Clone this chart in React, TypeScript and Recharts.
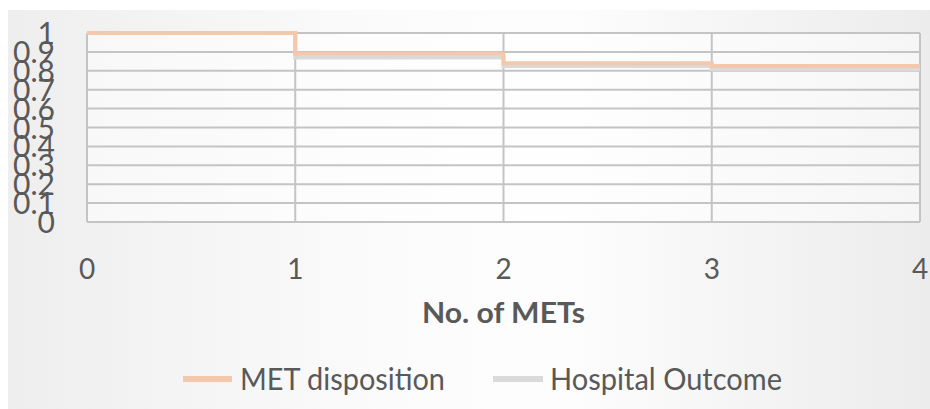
import React from "react";
import { LineChart, Line, XAxis, YAxis, CartesianGrid, Legend } from "recharts";

// number of METs and the proportion at each step
const metCounts = [0, 1, 2, 3, 4];
const metDisposition = [1, 0.89, 0.84, 0.825, 0.825];
const hospitalOutcome = [1, 0.87, 0.825, 0.81, 0.81];
const yTicks = [0, 0.1, 0.2, 0.3, 0.4, 0.5, 0.6, 0.7, 0.8, 0.9, 1];
const xTicks = [0, 1, 2, 3, 4];

const data = metCounts.map((n, i) => ({
  n,
  met: metDisposition[i],
  hosp: hospitalOutcome[i],
}));

const TEXT = "#595959";
const FONT = "Lato, 'Open Sans', sans-serif";
const ORANGE = "#f4c8aa";
const GREY = "#dadada";

const YTick = (props: any) => {
  const { y, payload } = props;
  return (
    <text x={55} y={y + 11} textAnchor="end" fill={TEXT} fontSize={30} fontFamily={FONT}>
      {String(Math.round(payload.value * 10) / 10)}
    </text>
  );
};

const XTick = (props: any) => {
  const { x, payload } = props;
  return (
    <text x={x} y={279} textAnchor="middle" fill={TEXT} fontSize={28} fontFamily={FONT}>
      {payload.value}
    </text>
  );
};

const AxisTitle = () => (
  <text
    x={422}
    y={323}
    fill={TEXT}
    fontSize={29}
    fontWeight={700}
    fontFamily={FONT}
    textLength={163}
    lengthAdjust="spacingAndGlyphs"
  >
    No. of METs
  </text>
);

const LegendContent = () => (
  <svg width={930} height={60}>
    <rect x={183} y={26} width={49} height={6} fill={ORANGE} />
    <text x={240} y={40} fill={TEXT} fontSize={30} fontFamily={FONT} textLength={205} lengthAdjust="spacingAndGlyphs">
      MET disposition
    </text>
    <rect x={493} y={26} width={50} height={6} fill={GREY} />
    <text x={550} y={40} fill={TEXT} fontSize={30} fontFamily={FONT} textLength={232} lengthAdjust="spacingAndGlyphs">
      Hospital Outcome
    </text>
  </svg>
);

export default function App() {
  return (
    <div style={{ position: "absolute", left: 0, top: 0, width: 930, height: 409, background: "#fff" }}>
      <div
        style={{
          position: "absolute",
          left: 8,
          top: 10,
          width: 922,
          height: 399,
          background: "linear-gradient(to right, #eeeeee 0%, #fbfbfb 40%, #fdfdfd 60%, #ececec 100%)",
        }}
      />
      <div style={{ position: "absolute", left: 0, top: 0 }}>
        <LineChart width={930} height={409} data={data} margin={{ top: 33, right: 10, left: 0, bottom: 127 }}>
          <CartesianGrid stroke="#c4c4c4" strokeWidth={2} fill="#ffffff" fillOpacity={0.5} />
          <XAxis
            dataKey="n"
            type="number"
            domain={[0, 4]}
            ticks={xTicks}
            interval={0}
            height={60}
            axisLine={false}
            tickLine={false}
            tick={<XTick />}
            label={<AxisTitle />}
          />
          <YAxis
            type="number"
            domain={[0, 1]}
            ticks={yTicks}
            interval={0}
            width={87}
            axisLine={false}
            tickLine={false}
            tick={<YTick />}
          />
          <Legend
            verticalAlign="middle"
            align="center"
            wrapperStyle={{ top: 350, left: 0, width: 930 }}
            content={<LegendContent />}
          />
          <Line
            type="stepAfter"
            dataKey="hosp"
            name="Hospital Outcome"
            stroke={GREY}
            strokeWidth={4}
            dot={false}
            isAnimationActive={false}
          />
          <Line
            type="stepAfter"
            dataKey="met"
            name="MET disposition"
            stroke={ORANGE}
            strokeWidth={4}
            dot={false}
            isAnimationActive={false}
          />
        </LineChart>
      </div>
    </div>
  );
}
